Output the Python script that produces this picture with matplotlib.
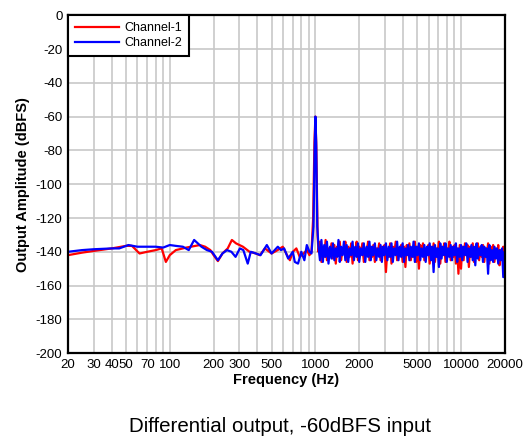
import matplotlib
matplotlib.use('Agg')
import matplotlib.pyplot as plt

plt.rcParams['font.family'] = ['Liberation Sans', 'DejaVu Sans']
plt.rcParams['axes.unicode_minus'] = False

# low frequency / peak part
ch1_freq = [20, 25, 30, 40, 50, 55, 62, 70, 80, 88,
            94, 100, 110, 130, 150, 161, 175, 190, 200, 214,
            230, 250, 267, 285, 318, 353, 390, 416, 450, 500,
            550, 597, 630, 668, 700, 740, 780, 830, 873, 910,
            940, 965, 985, 1000, 1015, 1035]
ch1_db = [-142, -140.5, -139.5, -138, -136.5, -136.5, -141, -140, -139, -138,
          -146, -142, -139, -137.5, -136.5, -136, -137, -139, -142, -145.5,
          -141, -138, -133, -135, -137, -140, -141, -142, -138, -141,
          -139, -137, -141, -145, -140, -138, -143, -141, -139, -142,
          -140, -120, -75, -60, -78, -130]

ch2_freq = [20, 25, 30, 40, 45, 52, 60, 70, 80, 90,
            100, 110, 123, 135, 147, 165, 180, 195, 214, 230,
            247, 265, 283, 303, 320, 343, 360, 390, 420, 464,
            500, 552, 580, 610, 650, 700, 722, 760, 800, 840,
            873, 910, 940, 970, 988, 1000, 1012, 1030]
ch2_db = [-140, -139, -138.5, -138, -138, -136, -137, -137, -137, -137.5,
          -136, -136.5, -137, -139, -133, -137, -139, -140, -145, -141,
          -139, -140, -143, -138, -139, -147, -140, -141, -142, -136,
          -141, -137, -139, -138, -144, -140, -146, -147, -140, -145,
          -136, -140, -141, -125, -80, -60, -75, -125]

# noise floor above the tone
noise_freq = [1050, 1075, 1100, 1125, 1150, 1175, 1200, 1230, 1260, 1290,
              1320, 1350, 1380, 1410, 1440, 1470, 1500, 1535, 1570, 1605,
              1640, 1680, 1720, 1760, 1800, 1840, 1880, 1920, 1960, 2000,
              2050, 2100, 2150, 2200, 2250, 2300, 2350, 2400, 2450, 2500,
              2560, 2620, 2680, 2740, 2800, 2860, 2920, 2980, 3050, 3120,
              3190, 3260, 3330, 3400, 3480, 3560, 3640, 3720, 3800, 3880,
              3970, 4060, 4150, 4240, 4330, 4420, 4520, 4620, 4720, 4820,
              4920, 5030, 5140, 5250, 5360, 5480, 5600, 5720, 5840, 5960,
              6090, 6220, 6350, 6480, 6620, 6760, 6900, 7050, 7200, 7350,
              7500, 7660, 7820, 7980, 8150, 8320, 8490, 8670, 8850, 9030,
              9220, 9410, 9600, 9800, 10000, 10200, 10420, 10640, 10860, 11090,
              11320, 11550, 11790, 12030, 12280, 12530, 12790, 13050, 13320, 13590,
              13870, 14150, 14440, 14730, 15030, 15340, 15650, 15970, 16290, 16620,
              16960, 17300, 17650, 18010, 18370, 18740, 19120, 19500, 19880, 20000]
ch1_noise = [-140, -134, -146, -137, -143, -133, -145, -138, -141, -135,
             -144, -136, -147, -137, -142, -134, -145, -139, -141, -134,
             -146, -137, -143, -135, -147, -138, -141, -134, -145, -137,
             -142, -135, -146, -138, -140, -134, -145, -137, -143, -136,
             -146, -138, -141, -135, -145, -137, -142, -136, -152, -139,
             -143, -135, -147, -137, -141, -134, -145, -138, -142, -136,
             -146, -137, -149, -136, -142, -135, -145, -138, -143, -134,
             -146, -137, -150, -136, -141, -135, -145, -138, -142, -136,
             -147, -137, -143, -135, -146, -138, -141, -134, -147, -137,
             -142, -135, -146, -138, -140, -134, -145, -137, -143, -136,
             -147, -138, -153, -136, -150, -137, -145, -135, -142, -136,
             -149, -137, -143, -135, -146, -138, -141, -135, -145, -137,
             -143, -136, -146, -138, -142, -135, -147, -137, -144, -136,
             -146, -138, -143, -136, -148, -139, -144, -137, -147, -140]
ch2_noise = [-137, -145, -133, -146, -136, -143, -134, -147, -137, -144,
             -135, -145, -138, -143, -133, -146, -137, -142, -134, -145,
             -136, -146, -138, -142, -134, -145, -137, -143, -135, -146,
             -138, -142, -135, -146, -137, -143, -134, -145, -137, -142,
             -135, -145, -138, -143, -136, -146, -137, -142, -135, -145,
             -137, -143, -135, -146, -138, -142, -134, -145, -137, -143,
             -135, -146, -138, -142, -136, -145, -137, -143, -134, -146,
             -137, -142, -135, -145, -138, -143, -136, -146, -137, -142,
             -135, -145, -137, -152, -136, -143, -138, -149, -135, -144,
             -137, -142, -135, -146, -138, -143, -136, -145, -137, -142,
             -135, -146, -138, -143, -136, -145, -137, -142, -135, -146,
             -138, -143, -136, -145, -137, -148, -135, -144, -138, -142,
             -136, -146, -137, -143, -138, -153, -136, -145, -139, -146,
             -137, -144, -138, -147, -139, -145, -138, -155, -140, -146]

xtick_vals = [20, 30, 40, 50, 70, 100, 200, 300, 500, 1000, 2000, 5000, 10000, 20000]
xgrid_vals = [30, 40, 50, 60, 70, 80, 90, 100, 200, 300, 400, 500, 600, 700, 800, 900,
              1000, 2000, 3000, 4000, 5000, 6000, 7000, 8000, 9000, 10000]

fig = plt.figure(figsize=(5.27, 4.36), dpi=100)
ax = fig.add_axes([0.129, 0.19, 0.829, 0.775])

# grid drawn by hand so it is not lost where major and minor ticks overlap
for g in xgrid_vals:
    ax.axvline(g, color='#c8c8c8', lw=1.2, zorder=0)
for g in range(-180, 0, 20):
    ax.axhline(g, color='#c8c8c8', lw=1.2, zorder=0)

ax.plot(ch1_freq + noise_freq, ch1_db + ch1_noise, color='#ff0000', lw=1.6, label='Channel-1')
ax.plot(ch2_freq + noise_freq, ch2_db + ch2_noise, color='#0000ff', lw=1.6, label='Channel-2')

ax.set_xscale('log')
ax.set_xlim(20, 20000)
ax.set_ylim(-200, 0)
ax.set_xticks(xtick_vals)
ax.set_xticklabels([str(v) for v in xtick_vals])
ax.xaxis.set_minor_locator(matplotlib.ticker.NullLocator())
ax.set_yticks(range(-200, 1, 20))
ax.tick_params(which='both', length=0, labelsize=9.5, pad=4)
for s in ax.spines.values():
    s.set_linewidth(1.6)

ax.set_xlabel('Frequency (Hz)', fontweight='bold', fontsize=10.5, labelpad=2)
ax.set_ylabel('Output Amplitude (dBFS)', fontweight='bold', fontsize=10.5, labelpad=4)

leg = ax.legend(loc='upper left', borderaxespad=0, fancybox=False, edgecolor='black',
                framealpha=1, fontsize=9, handlelength=3.5, borderpad=0.55, labelspacing=0.25,
                handletextpad=0.5)
leg.get_frame().set_linewidth(1.5)

fig.text(0.532, 0.01, 'Differential output, -60dBFS input', ha='center', va='baseline',
         fontsize=14.8)

fig.savefig('out.png', dpi=100)
